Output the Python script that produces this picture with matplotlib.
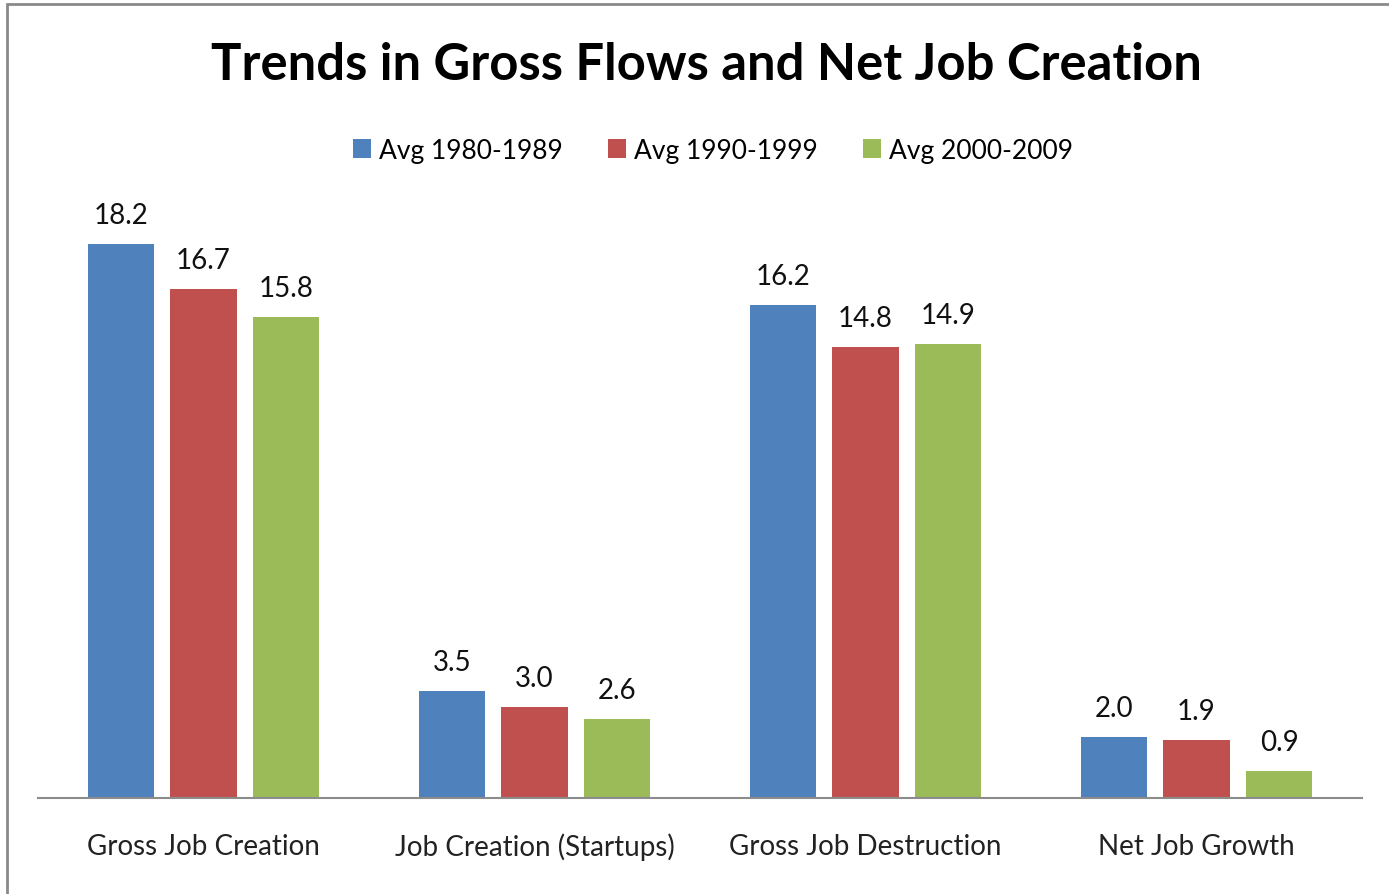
import matplotlib
matplotlib.use("Agg")
import matplotlib.pyplot as plt
import numpy as np
from matplotlib.patches import Rectangle

categories = ["Gross Job Creation", "Job Creation (Startups)", "Gross Job Destruction", "Net Job Growth"]
series_names = ["Avg 1980-1989", "Avg 1990-1999", "Avg 2000-2009"]
avg_1980s = [18.2, 3.5, 16.2, 2.0]
avg_1990s = [16.7, 3.0, 14.8, 1.9]
avg_2000s = [15.8, 2.6, 14.9, 0.9]
colors = ["#4F81BD", "#C0504D", "#9BBB59"]

plt.rcParams['font.family'] = ['Lato', 'DejaVu Sans']

W, H = 1389, 895
fig = plt.figure(figsize=(W/100, H/100), dpi=100)
ax = fig.add_axes([38/W, 1-799/H, (1362-38)/W, (799-190)/H])

x = np.arange(len(categories))
width = 0.2
offsets = [-0.25, 0.0, 0.25]
for vals, off, col, name in zip([avg_1980s, avg_1990s, avg_2000s], offsets, colors, series_names):
    bars = ax.bar(x + off, vals, width, color=col, label=name, zorder=2)
    for b, v in zip(bars, vals):
        ax.annotate(f"{v:.1f}", (b.get_x() + b.get_width()/2, v), xytext=(0, 16),
                    textcoords="offset pixels", ha="center", va="bottom", fontsize=20, color="#111111")

ax.set_xlim(-0.5, 3.5)
ax.set_ylim(0, 20)
for s in ["top", "right", "left"]:
    ax.spines[s].set_visible(False)
ax.spines["bottom"].set_color("#8c8c8c")
ax.spines["bottom"].set_linewidth(1.5)
ax.set_yticks([])
ax.set_xticks(x)
ax.set_xticklabels(categories, fontsize=20, color="#222222")
ax.tick_params(axis="x", length=0, pad=25)

fig.text(706/W, 1-66/H, "Trends in Gross Flows and Net Job Creation", ha="center", va="center",
         fontsize=36.5, fontweight="bold", color="black")

leg = fig.legend(loc="center", bbox_to_anchor=(713/W, 1-151/H), ncol=3, frameon=False,
                 fontsize=19, handlelength=0.7, handleheight=0.7, handletextpad=0.3, columnspacing=1.7)

fig.patches.append(Rectangle((7/W, -0.1), 1.2, 1.1-5/H, transform=fig.transFigure,
                             fill=False, edgecolor="#8a8a8a", linewidth=2, zorder=10))

fig.savefig("out.png", dpi=100, facecolor="white")
